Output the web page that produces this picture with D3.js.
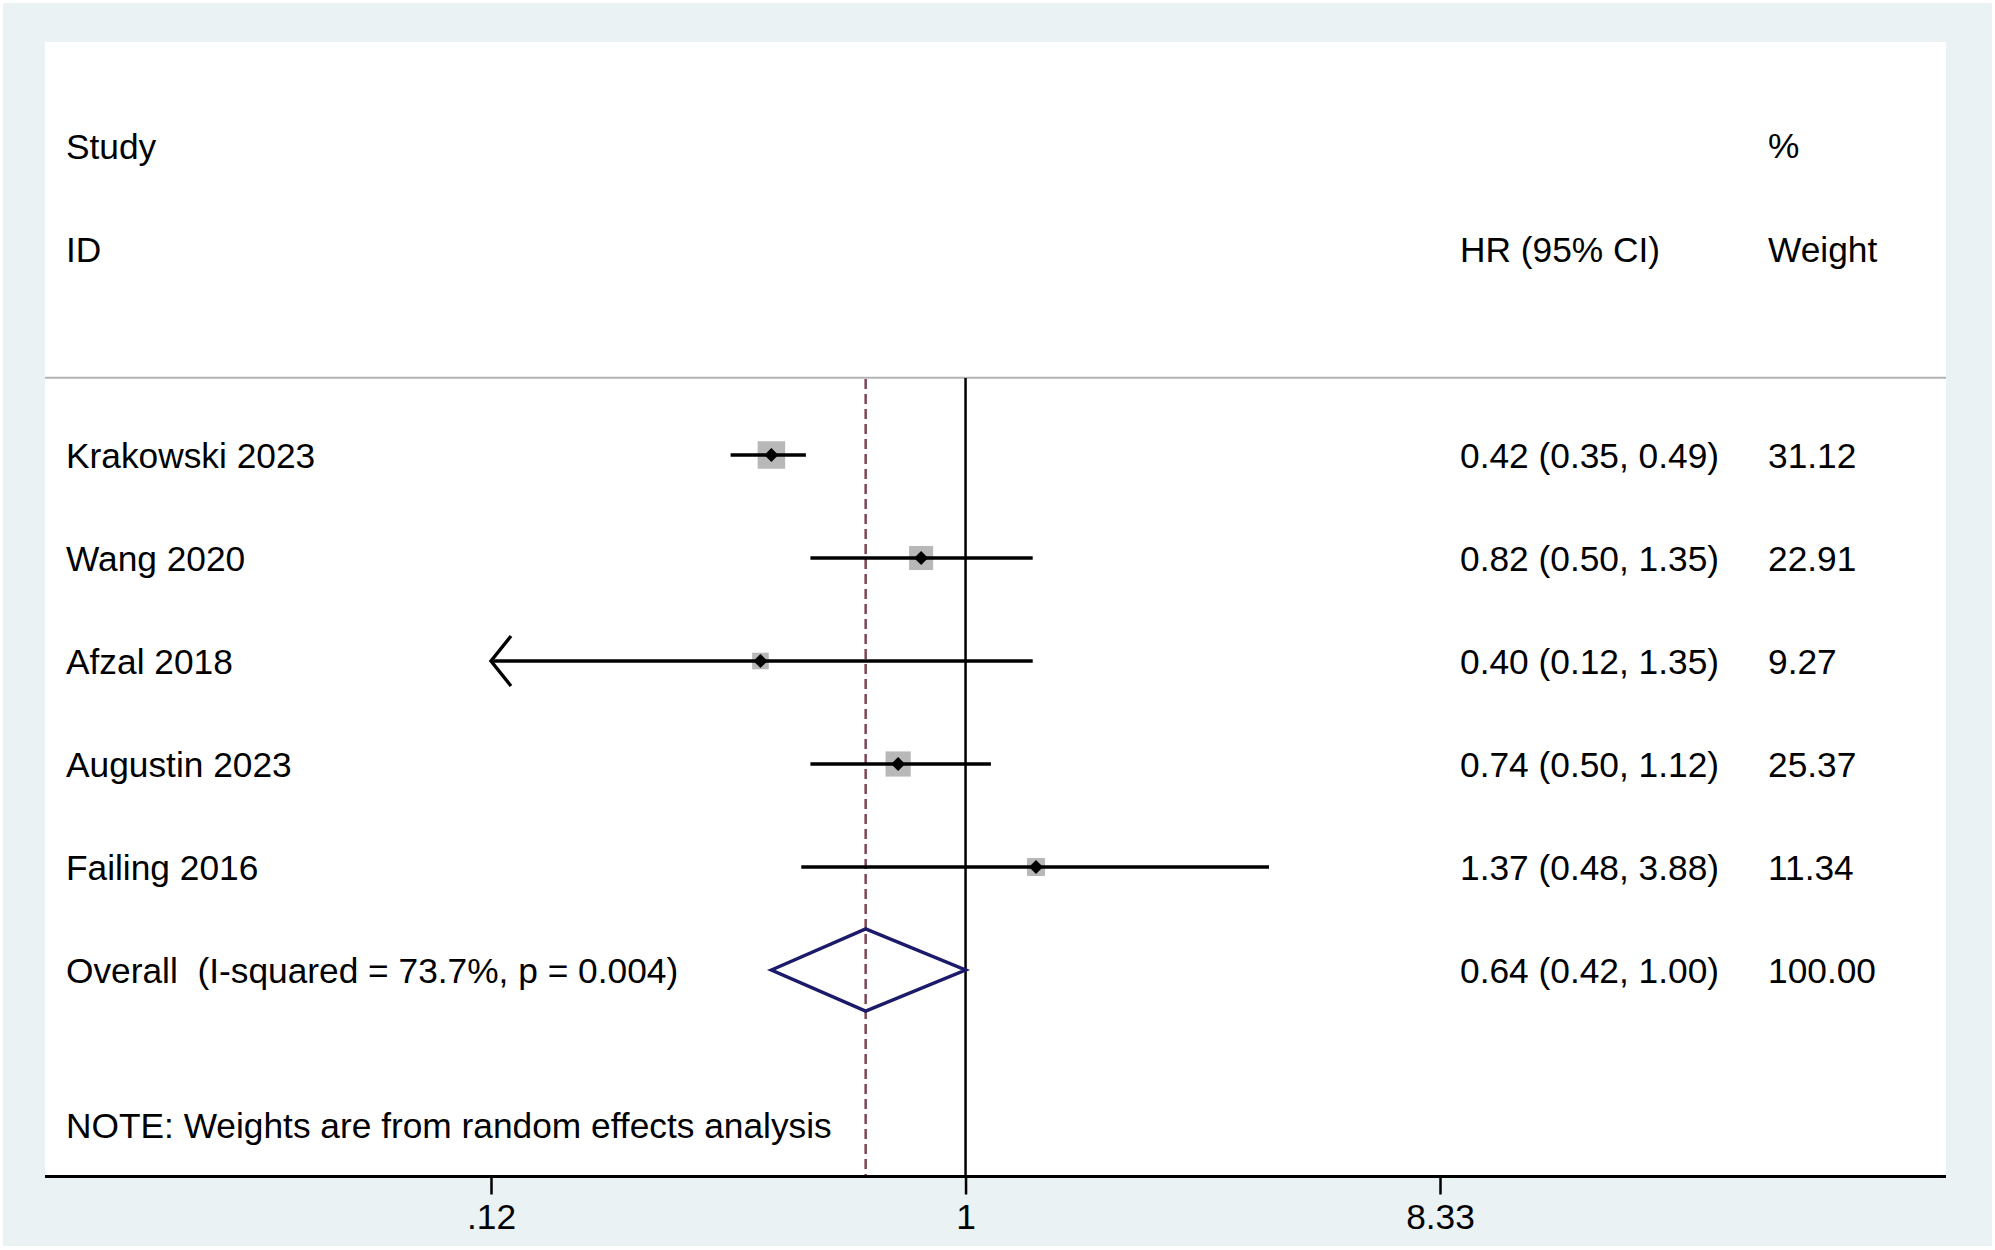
<!DOCTYPE html>
<html>
<head>
<meta charset="utf-8">
<script src="https://cdn.jsdelivr.net/npm/d3@7"></script>
<style>
  body { margin: 0; background: #fff; }
  text { font-family: "Liberation Sans", Arial, sans-serif; fill: #000; white-space: pre; }
</style>
</head>
<body>
<div id="chart"></div>
<script>
// study rows
var studies = ["Krakowski 2023", "Wang 2020", "Afzal 2018", "Augustin 2023", "Failing 2016"];
var hr      = [0.42, 0.82, 0.40, 0.74, 1.37];
var lower   = [0.35, 0.50, 0.12, 0.50, 0.48];
var upper   = [0.49, 1.35, 1.35, 1.12, 3.88];
var weights = [31.12, 22.91, 9.27, 25.37, 11.34];

// pooled estimate
var overallLabel = "Overall  (I-squared = 73.7%, p = 0.004)";
var overallHR = 0.64, overallLo = 0.42, overallHi = 1.00, overallWeight = 100.00;

var tickValues = [0.12, 1, 8.33];
var tickLabels = [".12", "1", "8.33"];
var note = "NOTE: Weights are from random effects analysis";

var width = 1995,
    height = 1250;

var svg = d3.select("#chart")
    .append("svg")
    .attr("width", width)
    .attr("height", height);

// graph region + plot region
svg.append("rect")
    .attr("x", 3).attr("y", 3)
    .attr("width", width - 6).attr("height", height - 7)
    .style("fill", "#eaf2f3");

var panel = {left: 45, right: 1946, top: 42, bottom: 1176.5};
svg.append("rect")
    .attr("x", panel.left).attr("y", panel.top)
    .attr("width", panel.right - panel.left)
    .attr("height", panel.bottom - panel.top)
    .style("fill", "#fff");

var x = d3.scaleLog()
    .domain([0.12, 8.33])
    .range([491, 1440]);

var rows = d3.range(studies.length + 1);
var y = d3.scalePoint()
    .domain(rows)
    .range([455, 970]);

var boxSize = d3.scaleSqrt()
    .domain([0, 31.12])
    .range([0, 24]);

var fs = 35.3;
var tx = 66;
var fmt2 = d3.format(".2f");

// header
var header = svg.append("g").style("font-size", fs + "px");
header.append("text").attr("x", tx).attr("y", 159).text("Study");
header.append("text").attr("x", tx).attr("y", 262).text("ID");
header.append("text").attr("x", 1460).attr("y", 262).text("HR (95% CI)");
header.append("text").attr("x", 1768).attr("y", 158).text("%");
header.append("text").attr("x", 1768).attr("y", 262).text("Weight");

// separator
svg.append("line")
    .attr("x1", panel.left).attr("x2", panel.right)
    .attr("y1", 377.7).attr("y2", 377.7)
    .style("stroke", "#b3b3b3")
    .style("stroke-width", 2);

// null line and pooled line
svg.append("line")
    .attr("x1", x(1)).attr("x2", x(1))
    .attr("y1", 378).attr("y2", panel.bottom)
    .style("stroke", "#000")
    .style("stroke-width", 2.5);

svg.append("line")
    .attr("x1", x(overallHR)).attr("x2", x(overallHR))
    .attr("y1", 379).attr("y2", panel.bottom)
    .style("stroke", "#7d4653")
    .style("stroke-width", 2.5)
    .style("stroke-dasharray", "10,5");

// studies
var data = studies.map(function(d, i) {
  return {name: d, hr: hr[i], lo: lower[i], hi: upper[i], w: weights[i], row: i};
});

var g = svg.append("g");

g.selectAll(".box")
    .data(data)
  .enter().append("rect")
    .attr("class", "box")
    .attr("x", function(d) { return x(d.hr) - (boxSize(d.w) + 3.5) / 2; })
    .attr("y", function(d) { return y(d.row) - (boxSize(d.w) + 3.5) / 2; })
    .attr("width", function(d) { return boxSize(d.w) + 3.5; })
    .attr("height", function(d) { return boxSize(d.w) + 3.5; })
    .style("fill", "#b8b8b8");

g.selectAll(".ci")
    .data(data)
  .enter().append("line")
    .attr("class", "ci")
    .attr("x1", function(d) { return x(Math.max(d.lo, 0.12)); })
    .attr("x2", function(d) { return x(Math.min(d.hi, 8.33)); })
    .attr("y1", function(d) { return y(d.row); })
    .attr("y2", function(d) { return y(d.row); })
    .style("stroke", "#000")
    .style("stroke-width", 3.4);

// arrow where the CI runs off the left of the scale
g.selectAll(".arrow")
    .data(data.filter(function(d) { return d.lo <= 0.12; }))
  .enter().append("path")
    .attr("class", "arrow")
    .attr("d", function(d) {
      var x0 = x(0.12), y0 = y(d.row);
      return "M" + (x0 + 20) + "," + (y0 - 25) + "L" + x0 + "," + y0 + "L" + (x0 + 20) + "," + (y0 + 25);
    })
    .style("fill", "none")
    .style("stroke", "#000")
    .style("stroke-width", 3.4);

g.selectAll(".pt")
    .data(data)
  .enter().append("path")
    .attr("class", "pt")
    .attr("d", function(d) {
      var cx = x(d.hr), cy = y(d.row), r = 7;
      return "M" + (cx - r) + "," + cy + "L" + cx + "," + (cy - r) + "L" + (cx + r) + "," + cy + "L" + cx + "," + (cy + r) + "Z";
    })
    .style("fill", "#000");

// pooled diamond
var oy = y(studies.length);
svg.append("path")
    .attr("d", "M" + x(overallLo) + "," + oy +
               "L" + x(overallHR) + "," + (oy - 41) +
               "L" + x(overallHi) + "," + oy +
               "L" + x(overallHR) + "," + (oy + 41) + "Z")
    .style("fill", "none")
    .style("stroke", "#1b1a6b")
    .style("stroke-width", 3.5);

// text columns
var labels = svg.append("g").style("font-size", fs + "px");
labels.selectAll(".name")
    .data(data)
  .enter().append("text")
    .attr("x", tx)
    .attr("y", function(d) { return y(d.row) + 13; })
    .text(function(d) { return d.name; });

labels.selectAll(".est")
    .data(data)
  .enter().append("text")
    .attr("x", 1460)
    .attr("y", function(d) { return y(d.row) + 13; })
    .text(function(d) { return fmt2(d.hr) + " (" + fmt2(d.lo) + ", " + fmt2(d.hi) + ")"; });

labels.selectAll(".wt")
    .data(data)
  .enter().append("text")
    .attr("x", 1768)
    .attr("y", function(d) { return y(d.row) + 13; })
    .text(function(d) { return fmt2(d.w); });

labels.append("text").attr("x", tx).attr("y", oy + 13).text(overallLabel);
labels.append("text").attr("x", 1460).attr("y", oy + 13)
    .text(fmt2(overallHR) + " (" + fmt2(overallLo) + ", " + fmt2(overallHi) + ")");
labels.append("text").attr("x", 1768).attr("y", oy + 13).text(fmt2(overallWeight));

labels.append("text").attr("x", tx).attr("y", 1138).text(note);

// x axis
var xAxis = d3.axisBottom(x)
    .tickValues(tickValues)
    .tickFormat(function(d, i) { return tickLabels[i]; })
    .tickSize(18)
    .tickPadding(9.5);

var ax = svg.append("g")
    .attr("transform", "translate(0," + panel.bottom + ")")
    .call(xAxis);
ax.select(".domain").remove();
ax.selectAll(".tick line").style("stroke", "#000").style("stroke-width", 2.5);
ax.selectAll(".tick text")
    .style("font-family", "'Liberation Sans', Arial, sans-serif")
    .style("font-size", fs + "px")
    .style("fill", "#000");

svg.append("line")
    .attr("x1", panel.left).attr("x2", panel.right)
    .attr("y1", panel.bottom).attr("y2", panel.bottom)
    .style("stroke", "#000")
    .style("stroke-width", 3);
</script>
</body>
</html>
